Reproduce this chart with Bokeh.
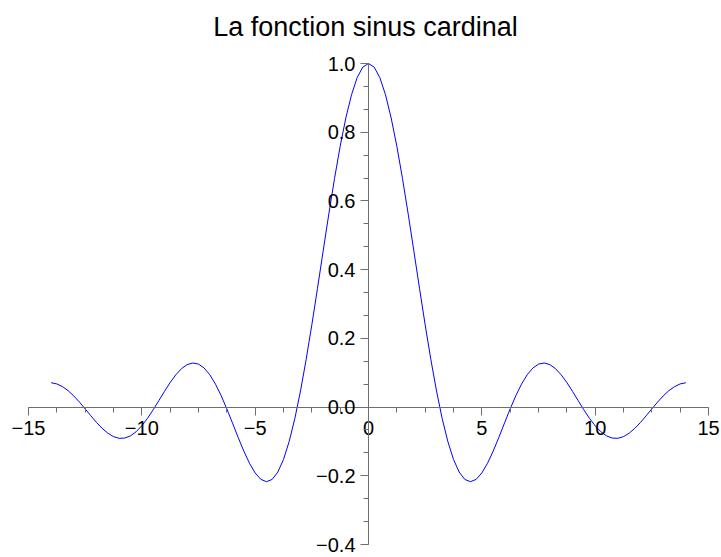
from bokeh.plotting import figure
from bokeh.models import Range1d, LinearAxis, FixedTicker, CustomJSTickFormatter
from bokeh.embed import file_html
from bokeh.resources import INLINE

# ---- data ----
x_vals = [-14.0, -13.75, -13.5, -13.25, -13.0, -12.75, -12.5, -12.25, -12.0, -11.75,
          -11.5, -11.25, -11.0, -10.75, -10.5, -10.25, -10.0, -9.75, -9.5, -9.25,
          -9.0, -8.75, -8.5, -8.25, -8.0, -7.75, -7.5, -7.25, -7.0, -6.75,
          -6.5, -6.25, -6.0, -5.75, -5.5, -5.25, -5.0, -4.75, -4.5, -4.25,
          -4.0, -3.75, -3.5, -3.25, -3.0, -2.75, -2.5, -2.25, -2.0, -1.75,
          -1.5, -1.25, -1.0, -0.75, -0.5, -0.25, 0.0,
          0.25, 0.5, 0.75, 1.0, 1.25, 1.5, 1.75, 2.0, 2.25, 2.5,
          2.75, 3.0, 3.25, 3.5, 3.75, 4.0, 4.25, 4.5, 4.75, 5.0,
          5.25, 5.5, 5.75, 6.0, 6.25, 6.5, 6.75, 7.0, 7.25, 7.5,
          7.75, 8.0, 8.25, 8.5, 8.75, 9.0, 9.25, 9.5, 9.75, 10.0,
          10.25, 10.5, 10.75, 11.0, 11.25, 11.5, 11.75, 12.0, 12.25, 12.5,
          12.75, 13.0, 13.25, 13.5, 13.75, 14.0]

y_vals = [0.0708, 0.0674, 0.0595, 0.0477, 0.0323, 0.0143, -0.0053, -0.0254, -0.0447, -0.0620,
          -0.0761, -0.0860, -0.0909, -0.0902, -0.0838, -0.0717, -0.0544, -0.0328, -0.0079, 0.0188,
          0.0458, 0.0714, 0.0939, 0.1118, 0.1237, 0.1283, 0.1251, 0.1135, 0.0939, 0.0667,
          0.0331, -0.0053, -0.0466, -0.0884, -0.1283, -0.1636, -0.1918, -0.2104, -0.2172, -0.2106,
          -0.1892, -0.1524, -0.1002, -0.0333, 0.0470, 0.1388, 0.2394, 0.3458, 0.4546, 0.5623,
          0.6650, 0.7592, 0.8415, 0.9089, 0.9589, 0.9896, 1.0,
          0.9896, 0.9589, 0.9089, 0.8415, 0.7592, 0.6650, 0.5623, 0.4546, 0.3458, 0.2394,
          0.1388, 0.0470, -0.0333, -0.1002, -0.1524, -0.1892, -0.2106, -0.2172, -0.2104, -0.1918,
          -0.1636, -0.1283, -0.0884, -0.0466, -0.0053, 0.0331, 0.0667, 0.0939, 0.1135, 0.1251,
          0.1283, 0.1237, 0.1118, 0.0939, 0.0714, 0.0458, 0.0188, -0.0079, -0.0328, -0.0544,
          -0.0717, -0.0838, -0.0902, -0.0909, -0.0860, -0.0761, -0.0620, -0.0447, -0.0254, -0.0053,
          0.0143, 0.0323, 0.0477, 0.0595, 0.0674, 0.0708]

x_ticks = [-15, -10, -5, 0, 5, 10, 15]
x_tick_labels = ["\u221215", "\u221210", "\u22125", "0", "5", "10", "15"]
y_ticks = [-0.4, -0.2, 0.0, 0.2, 0.4, 0.6, 0.8, 1.0]
y_tick_labels = ["\u22120.4", "\u22120.2", "0.0", "0.2", "0.4", "0.6", "0.8", "1.0"]

title_text = "La fonction sinus cardinal"

FONT = "Liberation Sans"
AXIS_COLOR = "#6e6e6e"

# pixel scales of the axes (680 px for 30 units, 481 px for 1.4 units); the frame is padded
# so that tick labels lying just outside the axis extents are not clipped
PX_X = 680 / 30.0
PX_Y = 481 / 1.4
PAD_L, PAD_R, PAD_T, PAD_B = 18, 12, 12, 10

p = figure(frame_width=680 + PAD_L + PAD_R, frame_height=481 + PAD_T + PAD_B,
           x_range=Range1d(x_ticks[0] - PAD_L / PX_X, x_ticks[-1] + PAD_R / PX_X),
           y_range=Range1d(y_ticks[0] - PAD_B / PX_Y, y_ticks[-1] + PAD_T / PX_Y),
           x_axis_type=None, y_axis_type=None,
           output_backend="svg", toolbar_location=None,
           min_border_left=10, min_border_right=0,
           min_border_top=0, min_border_bottom=0)
p.outline_line_color = None
p.background_fill_color = "white"
p.border_fill_color = "white"

p.title.text = title_text
p.title.align = "center"
p.title.text_font = FONT
p.title.text_font_size = "27px"
p.title.text_font_style = "normal"
p.title.text_color = "black"
p.title.standoff = 19

x_minor = [x_ticks[0] + 1.25 * i for i in range(int((x_ticks[-1] - x_ticks[0]) / 1.25) + 1)]
y_minor = [y_ticks[0] + (0.2 / 3) * i for i in range(int(round((y_ticks[-1] - y_ticks[0]) / (0.2 / 3))) + 1)]

fmt_code = """
let best = 0, bd = 1e9;
for (let i = 0; i < tk.length; i++) {
  const d = Math.abs(tk[i] - tick);
  if (d < bd) { bd = d; best = i; }
}
return lb[best];
"""

xaxis = LinearAxis(fixed_location=0, bounds=(x_ticks[0], x_ticks[-1]),
                   ticker=FixedTicker(ticks=x_ticks, minor_ticks=x_minor),
                   formatter=CustomJSTickFormatter(args=dict(tk=x_ticks, lb=x_tick_labels), code=fmt_code))
yaxis = LinearAxis(fixed_location=0, bounds=(y_ticks[0], y_ticks[-1]),
                   ticker=FixedTicker(ticks=y_ticks, minor_ticks=y_minor),
                   formatter=CustomJSTickFormatter(args=dict(tk=y_ticks, lb=y_tick_labels), code=fmt_code))

for ax in (xaxis, yaxis):
    ax.axis_line_color = AXIS_COLOR
    ax.major_tick_line_color = AXIS_COLOR
    ax.minor_tick_line_color = AXIS_COLOR
    ax.major_tick_in = 0
    ax.minor_tick_in = 0
    ax.major_tick_out = 8
    ax.minor_tick_out = 5
    ax.major_label_text_font = FONT
    ax.major_label_text_font_size = "20px"
    ax.major_label_text_color = "black"

xaxis.major_label_standoff = 6
yaxis.major_label_standoff = 5

p.add_layout(xaxis, "below")
p.add_layout(yaxis, "left")

p.line(x_vals, y_vals, line_color="#0000ff", line_width=1)

open("out.html", "w").write(file_html(p, INLINE))
